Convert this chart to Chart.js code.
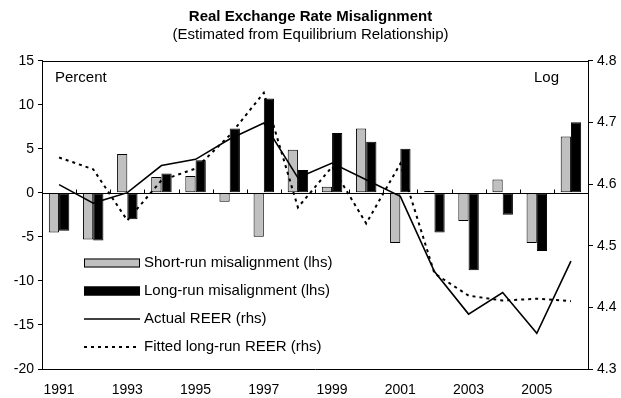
<!DOCTYPE html>
<html>
<head>
<meta charset="utf-8">
<script src="https://cdn.jsdelivr.net/npm/chart.js@4"></script>
<style>
  html, body { margin: 0; padding: 0; background: #fff; }
  #wrap { width: 621px; height: 398px; }
</style>
</head>
<body>
<div id="wrap"><canvas id="c" width="621" height="398"></canvas></div>
<script>
// Years on the category axis
const years = ['1991','1992','1993','1994','1995','1996','1997','1998',
               '1999','2000','2001','2002','2003','2004','2005','2006'];

// Misalignment, percent (left axis)
const shortRun = [-4.5, -5.3, 4.4, 1.8, 1.9, -1.0, -5.0, 4.9, 0.7, 7.3, -5.7, 0.2, -3.2, 1.5, -5.7, 6.4];
const longRun  = [-4.3, -5.4, -3.0, 2.2, 3.7, 7.3, 10.7, 2.6, 6.8, 5.8, 5.0, -4.5, -8.8, -2.5, -6.6, 8.0];

// REER in logs (right axis)
const actualReer = [4.599, 4.569, 4.586, 4.630, 4.640, 4.673, 4.699, 4.610, 4.634, 4.607, 4.580, 4.458, 4.389, 4.424, 4.358, 4.475];
const fittedReer = [4.643, 4.624, 4.541, 4.606, 4.625, 4.679, 4.748, 4.562, 4.628, 4.536, 4.633, 4.455, 4.419, 4.411, 4.414, 4.410];

// Axis ranges
const leftMin = -20, leftMax = 15, leftStep = 5;
const rightMin = 4.3, rightMax = 4.8, rightStep = 0.1;

const FONT = '"Liberation Sans", Arial, sans-serif';
const GREY = '#c0c0c0';

// Frame, zero line with category ticks, unit notes and the inset legend
const decorations = {
  id: 'decorations',
  afterDatasetsDraw(chart) {
    const { ctx, chartArea: a, scales } = chart;
    const x = scales.x, y = scales.y;
    ctx.save();
    ctx.strokeStyle = '#000';
    ctx.lineWidth = 1;
    // top frame line
    ctx.beginPath();
    ctx.moveTo(a.left, Math.round(a.top) + 0.5);
    ctx.lineTo(a.right, Math.round(a.top) + 0.5);
    ctx.stroke();
    // horizontal axis at zero
    const y0 = Math.round(y.getPixelForValue(0)) + 0.5;
    ctx.beginPath();
    ctx.moveTo(a.left, y0);
    ctx.lineTo(a.right, y0);
    const half = (x.getPixelForValue(1) - x.getPixelForValue(0)) / 2;
    for (let i = 0; i < years.length - 1; i++) {
      const xt = Math.round(x.getPixelForValue(i) + half) + 0.5;
      ctx.moveTo(xt, y0);
      ctx.lineTo(xt, y0 - 4);
    }
    ctx.stroke();
    ctx.restore();
  },
  afterDraw(chart) {
    const { ctx, chartArea: a } = chart;
    ctx.save();
    ctx.fillStyle = '#000';
    ctx.font = '15px ' + FONT;
    ctx.textBaseline = 'middle';
    ctx.textAlign = 'left';
    ctx.fillText('Percent', a.left + 13, a.top + 17);
    ctx.textAlign = 'right';
    ctx.fillText('Log', a.right - 29, a.top + 17);

    // legend
    const kx = 84, kw = 56, tx = 144;
    const rows = [263, 291, 319, 347];
    const ds = chart.data.datasets;
    const order = [2, 3, 0, 1];
    order.forEach((di, r) => {
      const d = ds[di];
      const cy = rows[r];
      ctx.save();
      if (d.type === 'bar') {
        ctx.fillStyle = d.backgroundColor;
        ctx.fillRect(kx, cy - 4.5, kw, 9);
        ctx.strokeStyle = '#000';
        ctx.lineWidth = 1;
        ctx.strokeRect(kx + 0.5, cy - 4, kw - 1, 8);
      } else {
        ctx.strokeStyle = '#000';
        ctx.lineWidth = d.borderWidth;
        ctx.setLineDash(d.borderDash || []);
        ctx.beginPath();
        ctx.moveTo(kx, cy);
        ctx.lineTo(kx + kw, cy);
        ctx.stroke();
      }
      ctx.restore();
      ctx.fillStyle = '#000';
      ctx.textAlign = 'left';
      ctx.textBaseline = 'middle';
      ctx.font = '15px ' + FONT;
      ctx.fillText(d.label, tx, cy);
    });
    ctx.restore();
  }
};

new Chart(document.getElementById('c'), {
  data: {
    labels: years,
    datasets: [
      {
        type: 'line', label: 'Actual REER (rhs)', data: actualReer, yAxisID: 'y2',
        borderColor: '#000', borderWidth: 1.6, pointRadius: 0, tension: 0, order: 0
      },
      {
        type: 'line', label: 'Fitted long-run REER (rhs)', data: fittedReer, yAxisID: 'y2',
        borderColor: '#000', borderWidth: 2, borderDash: [3, 4], pointRadius: 0, tension: 0, order: 0
      },
      {
        type: 'bar', label: 'Short-run misalignment (lhs)', data: shortRun, yAxisID: 'y',
        backgroundColor: GREY, borderColor: '#000', borderWidth: 1, borderSkipped: false,
        barPercentage: 1, categoryPercentage: 0.6, order: 1
      },
      {
        type: 'bar', label: 'Long-run misalignment (lhs)', data: longRun, yAxisID: 'y',
        backgroundColor: '#000', borderColor: '#000', borderWidth: 1, borderSkipped: false,
        barPercentage: 1, categoryPercentage: 0.6, order: 1
      }
    ]
  },
  options: {
    responsive: false,
    animation: false,
    devicePixelRatio: 1,
    layout: { padding: 0 },
    plugins: {
      legend: { display: false },
      tooltip: { enabled: false },
      title: {
        display: true,
        text: 'Real Exchange Rate Misalignment',
        color: '#000',
        font: { family: FONT, size: 15, weight: 'bold', lineHeight: 1.2 },
        padding: { top: 8, bottom: 0 }
      },
      subtitle: {
        display: true,
        text: '(Estimated from Equilibrium Relationship)',
        color: '#000',
        font: { family: FONT, size: 15, lineHeight: 1.2 },
        padding: { top: 0, bottom: 16.7 }
      }
    },
    scales: {
      x: {
        type: 'category',
        position: 'bottom',
        grid: { display: false },
        border: { display: true, color: '#000', width: 1 },
        ticks: {
          color: '#000', font: { family: FONT, size: 14 }, padding: 5,
          autoSkip: false, maxRotation: 0,
          callback: (v, i) => (i % 2 === 0 ? years[i] : '')
        },
        afterFit: s => { s.height = 29; }
      },
      y: {
        position: 'left',
        min: leftMin, max: leftMax,
        grid: { drawOnChartArea: false, color: '#000', tickLength: 4 },
        border: { display: true, color: '#000', width: 1 },
        ticks: { stepSize: leftStep, color: '#000', font: { family: FONT, size: 14 }, padding: 4 },
        afterFit: s => { s.width = 42; }
      },
      y2: {
        position: 'right',
        min: rightMin, max: rightMax,
        grid: { drawOnChartArea: false, color: '#000', tickLength: 5 },
        border: { display: true, color: '#000', width: 1 },
        ticks: {
          stepSize: rightStep, color: '#000', font: { family: FONT, size: 14 }, padding: 4,
          callback: v => Number(v).toFixed(1)
        },
        afterFit: s => { s.width = 33; }
      }
    }
  },
  plugins: [decorations]
});
</script>
</body>
</html>
